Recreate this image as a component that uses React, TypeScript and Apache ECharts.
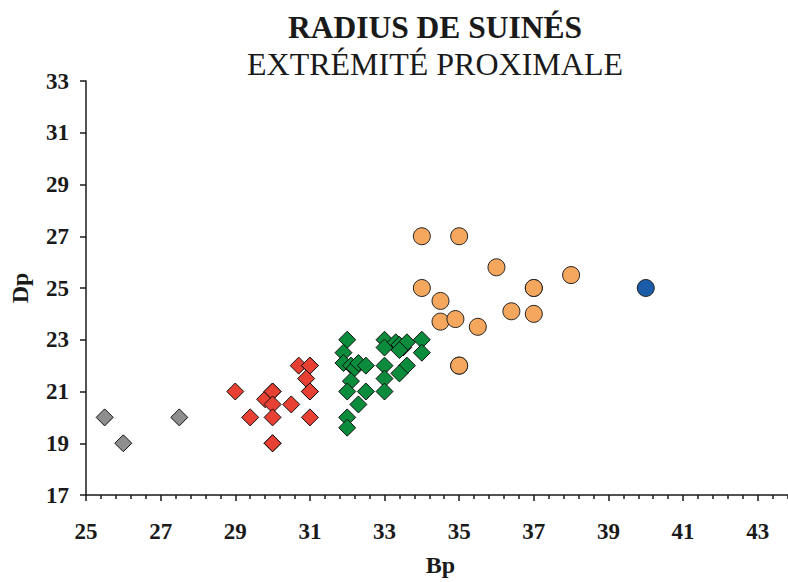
import React, { useEffect, useRef } from "react";
import * as echarts from "echarts";

const titleMain = "RADIUS DE SUINÉS";
const titleSub = "EXTRÉMITÉ PROXIMALE";
const xName = "Bp";
const yName = "Dp";

// [Bp, Dp]
const grayPoints: number[][] = [[25.5, 20], [26, 19], [27.5, 20]];
const redPoints: number[][] = [
  [29, 21], [29.4, 20], [29.8, 20.7], [30, 21], [30, 21], [30, 20.5], [30, 20],
  [30, 19], [30, 19], [30.5, 20.5], [30.7, 22], [31, 22], [31, 22], [30.9, 21.5],
  [31, 21], [31, 21], [31, 20],
];
const greenPoints: number[][] = [
  [32, 23], [31.9, 22.5], [31.9, 22.1], [32.1, 22], [32.2, 21.9], [32.3, 22.1],
  [32.5, 22], [32.1, 21.4], [32, 21], [32.5, 21], [32.3, 20.5], [32, 20], [32, 19.6],
  [33, 23], [33, 22.7], [33.3, 22.9], [33.4, 22.8], [33.5, 22.7], [33.6, 22.9],
  [33.4, 22.6], [34, 23], [34, 22.5], [33, 22], [33, 21.5], [33, 21], [33.6, 22],
  [33.4, 21.7],
];
const orangePoints: number[][] = [
  [34, 27], [35, 27], [36, 25.8], [38, 25.5], [37, 25], [37, 25], [34, 25],
  [34.5, 24.5], [34.5, 23.7], [34.9, 23.8], [35.5, 23.5], [36.4, 24.1], [37, 24],
  [35, 22], [35, 22],
];
const bluePoints: number[][] = [[40, 25]];

const serif = "'Liberation Serif', 'DejaVu Serif', serif";

export default function App() {
  const ref = useRef<HTMLDivElement>(null);
  useEffect(() => {
    if (!ref.current) return;
    const chart = echarts.init(ref.current, null, { renderer: "svg" });
    const diamond = (data: number[][], color: string) => ({
      type: "scatter",
      data,
      symbol: "diamond",
      symbolSize: 17,
      itemStyle: { color, borderColor: "#111", borderWidth: 1, opacity: 1 },
    });
    const circle = (data: number[][], color: string) => ({
      type: "scatter",
      data,
      symbol: "circle",
      symbolSize: 17,
      itemStyle: { color, borderColor: "#222", borderWidth: 1, opacity: 1 },
    });
    chart.setOption({
      animation: false,
      backgroundColor: "#fff",
      graphic: [
        {
          type: "text",
          x: 435,
          y: 27,
          style: {
            text: titleMain,
            align: "center",
            verticalAlign: "middle",
            font: `bold 31.5px ${serif}`,
            fill: "#1a1a1a",
          },
        },
        {
          type: "text",
          x: 435,
          y: 64,
          style: {
            text: titleSub,
            align: "center",
            verticalAlign: "middle",
            font: `32px ${serif}`,
            fill: "#1a1a1a",
          },
        },
      ],
      grid: { left: 86, right: 1, top: 81, bottom: 85, containLabel: false },
      xAxis: {
        type: "value",
        min: 25,
        max: 44,
        interval: 2,
        name: xName,
        nameLocation: "middle",
        nameGap: 58,
        nameMoveOverlap: false,
        nameTextStyle: { fontFamily: serif, fontWeight: "bold", fontSize: 24, color: "#1a1a1a" },
        axisLine: { show: true, lineStyle: { color: "#1a1a1a", width: 1.5 } },
        axisTick: { show: true, inside: false, length: 6, lineStyle: { color: "#1a1a1a", width: 1.5 } },
        minorTick: { show: true, splitNumber: 5, length: 4, lineStyle: { color: "#1a1a1a", width: 1.5 } },
        splitLine: { show: false },
        axisLabel: {
          showMaxLabel: false,
          margin: 25,
          fontFamily: serif,
          fontWeight: "bold",
          fontSize: 23,
          color: "#1a1a1a",
        },
      },
      yAxis: {
        type: "value",
        min: 17,
        max: 33,
        interval: 2,
        name: yName,
        nameLocation: "middle",
        nameGap: 54,
        nameMoveOverlap: false,
        nameTextStyle: { fontFamily: serif, fontWeight: "bold", fontSize: 24, color: "#1a1a1a" },
        axisLine: { show: true, lineStyle: { color: "#1a1a1a", width: 1.5 } },
        axisTick: { show: true, inside: false, length: 6, lineStyle: { color: "#1a1a1a", width: 1.5 } },
        splitLine: { show: false },
        axisLabel: {
          margin: 17,
          fontFamily: serif,
          fontWeight: "bold",
          fontSize: 23,
          color: "#1a1a1a",
        },
      },
      series: [
        diamond(grayPoints, "#8e8e8e"),
        diamond(redPoints, "#e84133"),
        diamond(greenPoints, "#0b8c3c"),
        circle(orangePoints, "#f5a75e"),
        circle(bluePoints, "#1a5ca8"),
      ],
    });
    return () => chart.dispose();
  }, []);
  return (
    <div style={{ width: 788, height: 582, overflow: "hidden", position: "absolute", left: 0, top: 0 }}>
      <div ref={ref} style={{ width: 796, height: 582 }} />
    </div>
  );
}
